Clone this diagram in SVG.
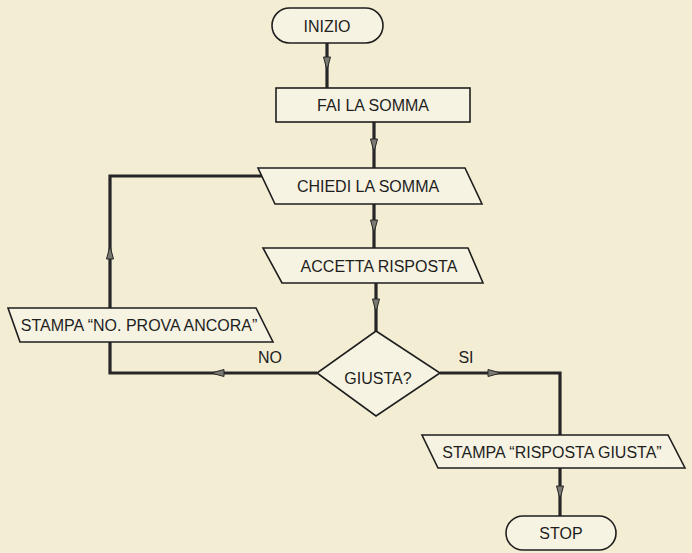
<svg xmlns="http://www.w3.org/2000/svg" xmlns:xlink="http://www.w3.org/1999/xlink" width="692" height="553" viewBox="0 0 692 553">
<style>
.bg{fill:#f3edd4}
.shape{fill:#f7f3e2;stroke:#1e1e1e;stroke-width:1.6}
.lbl{font-family:"Liberation Sans",Arial,sans-serif;font-size:16px;fill:#1e1e1e;text-anchor:middle;dominant-baseline:central}
.conn{fill:none;stroke:#262626;stroke-width:3.2;stroke-linejoin:miter}
.ah{fill:#7a7a72;stroke:#262626;stroke-width:1}
</style>
<defs>
<path id="ah" class="ah" d="M-3.5,-9 L3.5,-9 L0,4 Z"/>
</defs>
<rect class="bg" x="0" y="0" width="692" height="553"/>
<g id="connectors">
<path class="conn" d="M327,43 V88"/>
<path class="conn" d="M374,122 V168"/>
<path class="conn" d="M374,204 V248"/>
<path class="conn" d="M376,283 V331"/>
<path class="conn" d="M317,373 H110 V342"/>
<path class="conn" d="M110,308 V176 H262"/>
<path class="conn" d="M440,373 H560 V435"/>
<path class="conn" d="M560,468 V516"/>
<use xlink:href="#ah" transform="translate(327,66)"/>
<use xlink:href="#ah" transform="translate(374,148)"/>
<use xlink:href="#ah" transform="translate(374,229)"/>
<use xlink:href="#ah" transform="translate(376,308)"/>
<use xlink:href="#ah" transform="translate(215,373) rotate(90)"/>
<use xlink:href="#ah" transform="translate(110,250) rotate(180)"/>
<use xlink:href="#ah" transform="translate(497,373) rotate(-90)"/>
<use xlink:href="#ah" transform="translate(560,495)"/>
<text class="lbl" x="270" y="357">NO</text>
<text class="lbl" x="466" y="357">SI</text>
</g>
<g id="inizio">
<rect class="shape" x="272" y="8" width="111" height="35" rx="17.5"/>
<text class="lbl" x="327" y="26">INIZIO</text>
</g>
<g id="fai-la-somma">
<rect class="shape" x="276" y="88" width="194" height="34"/>
<text class="lbl" x="373" y="105">FAI LA SOMMA</text>
</g>
<g id="chiedi-la-somma">
<polygon class="shape" points="258,168 465,168 482,204 275,204"/>
<text class="lbl" x="368" y="186">CHIEDI LA SOMMA</text>
</g>
<g id="accetta-risposta">
<polygon class="shape" points="263,248 468,248 483,283 282,283"/>
<text class="lbl" x="379" y="266">ACCETTA RISPOSTA</text>
</g>
<g id="giusta">
<polygon class="shape" points="376,331 440,373 376,416 317,373"/>
<text class="lbl" x="378" y="378">GIUSTA?</text>
</g>
<g id="stampa-no">
<polygon class="shape" points="8,308 256,308 273,342 20,342"/>
<text class="lbl" x="139" y="325">STAMPA “NO. PROVA ANCORA”</text>
</g>
<g id="stampa-giusta">
<polygon class="shape" points="422,435 668,435 685,468 438,468"/>
<text class="lbl" x="552" y="452">STAMPA “RISPOSTA GIUSTA”</text>
</g>
<g id="stop">
<rect class="shape" x="506" y="516" width="110" height="34" rx="17"/>
<text class="lbl" x="561" y="533">STOP</text>
</g>
</svg>
